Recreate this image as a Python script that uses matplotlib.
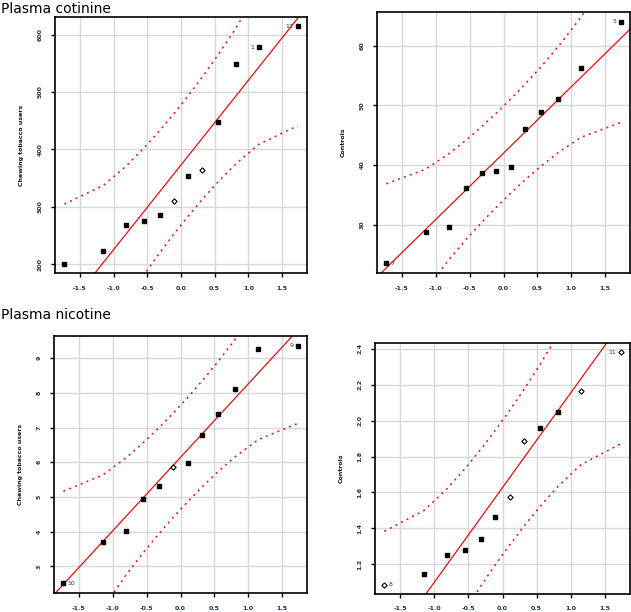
import numpy as np
import matplotlib.pyplot as plt
from statistics import NormalDist

# theoretical normal quantiles for n = 12 (ppoints)
n = 12
nd = NormalDist()
probs = (np.arange(1, n + 1) - 0.5) / n
z = np.array([nd.inv_cdf(p) for p in probs])

# sorted sample values
cotinine_users = [201, 223, 268, 275, 286, 310, 353, 364, 447, 548, 578, 614]
cotinine_controls = [23.5, 28.7, 29.6, 36.1, 38.7, 39.0, 39.6, 46.0, 48.9, 51.1, 56.3, 64.0]
nicotine_users = [2.51, 3.70, 4.02, 4.95, 5.32, 5.86, 5.98, 6.77, 7.38, 8.12, 9.26, 9.36]
nicotine_controls = [1.087, 1.148, 1.255, 1.278, 1.339, 1.466, 1.577, 1.887, 1.961, 2.047, 2.167, 2.380]

yticks_1 = [200, 300, 400, 500, 600]
yticks_2 = [30, 40, 50, 60]
yticks_3 = [3, 4, 5, 6, 7, 8, 9]
yticks_4 = [1.2, 1.4, 1.6, 1.8, 2.0, 2.2, 2.4]
ytick_labels_4 = ['1.2', '1.4', '1.6', '1.8', '2.0', '2.2', '2.4']
xticks = [-1.5, -1.0, -0.5, 0.0, 0.5, 1.0, 1.5]

# identified points: (index, label)
ids_1 = [(10, '1'), (11, '12')]
ids_2 = [(0, '7'), (11, '5')]
ids_3 = [(0, '10'), (11, '9')]
ids_4 = [(0, '8'), (11, '11')]
hollow_1 = [5, 7]
hollow_2 = []
hollow_3 = [5]
hollow_4 = [0, 6, 7, 10, 11]

W, H = 631, 612
fig = plt.figure(figsize=(W / 100, H / 100), dpi=100)


def px_axes(l, t, r, b):
    return fig.add_axes([l / W, 1 - b / H, (r - l) / W, (b - t) / H])


def qq_panel(ax, y, yticks, ylabels, ylabel, ids, hollow):
    y = np.asarray(y, dtype=float)
    q1, q3 = np.percentile(y, [25, 75])
    z1, z3 = nd.inv_cdf(0.25), nd.inv_cdf(0.75)
    slope = (q3 - q1) / (z3 - z1)
    icpt = q1 - slope * z1
    fit = icpt + slope * z
    dens = np.array([nd.pdf(v) for v in z])
    se = slope / dens * np.sqrt(probs * (1 - probs) / n)
    zz = nd.inv_cdf(0.975)

    ax.grid(True, color='#d8d8d8', lw=1.0, zorder=0)
    xl = np.array([-2.5, 2.5])
    ax.plot(xl, icpt + slope * xl, color='#e01010', lw=0.9, zorder=2)
    for s in (1, -1):
        ax.plot(z, fit + s * zz * se, color='#e01010', lw=1.1,
                dashes=(1.3, 2.8), zorder=2)

    filled = [i for i in range(n) if i not in hollow]
    ax.plot(z[filled], y[filled], 's', color='black', ms=2.3, zorder=3)
    if hollow:
        ax.plot(z[hollow], y[hollow], 'D', mfc='white', mec='black',
                ms=2.7, mew=0.8, zorder=3)

    for i, lab in ids:
        if z[i] > 0:
            ax.annotate(lab, (z[i], y[i]), xytext=(-3, 0), textcoords='offset points',
                        ha='right', va='center', fontsize=4.5, color='#333333')
        else:
            ax.annotate(lab, (z[i], y[i]), xytext=(3, 0), textcoords='offset points',
                        ha='left', va='center', fontsize=4.5, color='#333333')

    pad = 0.04 * (y.max() - y.min())
    ax.set_ylim(y.min() - pad, y.max() + pad)
    ax.set_xlim(-1.87, 1.87)
    ax.set_xticks(xticks)
    ax.set_xticklabels(['-1.5', '-1.0', '-0.5', '0.0', '0.5', '1.0', '1.5'],
                       fontsize=4.5, fontweight='bold', color='#203050')
    ax.set_yticks(yticks)
    ax.set_yticklabels(ylabels, fontsize=4.5, fontweight='bold', color='#203050',
                       rotation=90, va='center')
    ax.tick_params(length=3, width=1, pad=6, color='black')
    ax.set_ylabel(ylabel, fontsize=4.5, fontweight='bold', color='#201810', labelpad=10)
    for sp in ax.spines.values():
        sp.set_linewidth(1.2)
        sp.set_color('black')


ax1 = px_axes(55, 17, 307, 273)
qq_panel(ax1, cotinine_users, yticks_1, [str(v) for v in yticks_1],
         'Chewing tobacco users', ids_1, hollow_1)
ax2 = px_axes(377, 12, 630, 273)
qq_panel(ax2, cotinine_controls, yticks_2, [str(v) for v in yticks_2],
         'Controls', ids_2, hollow_2)
ax3 = px_axes(54, 336, 307, 593)
qq_panel(ax3, nicotine_users, yticks_3, [str(v) for v in yticks_3],
         'Chewing tobacco users', ids_3, hollow_3)
ax4 = px_axes(375, 343, 630, 594)
qq_panel(ax4, nicotine_controls, yticks_4, ytick_labels_4,
         'Controls', ids_4, hollow_4)

fig.text(1 / W, 1 - 9 / H, 'Plasma cotinine', fontsize=10, va='center', ha='left')
fig.text(1 / W, 1 - 315 / H, 'Plasma nicotine', fontsize=10, va='center', ha='left')

fig.savefig('out.png', dpi=100)
